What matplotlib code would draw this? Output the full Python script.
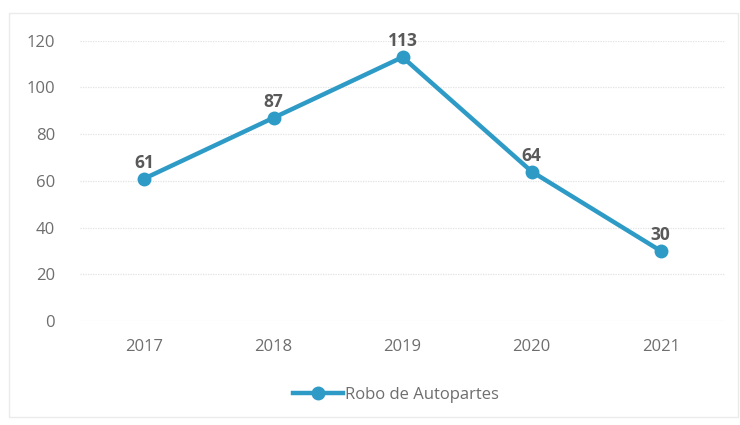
import matplotlib.pyplot as plt
from matplotlib.lines import Line2D

# Data
years = ["2017", "2018", "2019", "2020", "2021"]
robos = [61, 87, 113, 64, 30]
y_ticks = [0, 20, 40, 60, 80, 100, 120]
series_name = "Robo de Autopartes"

line_color = "#2E9BC6"
text_color = "#6E6E6E"

plt.rcParams['font.family'] = ['Open Sans', 'DejaVu Sans']

fig = plt.figure(figsize=(7.4, 4.25), dpi=100)
ax = fig.add_axes([0.108, 0.245, 0.872, 0.659])

x = range(len(years))
ax.plot(x, robos, color=line_color, linewidth=3.2, marker='o',
        markersize=9, clip_on=False, zorder=3)

for xi, v in zip(x, robos):
    ax.annotate(str(v), (xi, v), xytext=(0, 5), textcoords='offset points',
                ha='center', va='bottom', fontsize=12.5, fontweight='bold',
                color="#595959")

ax.set_xlim(-0.5, len(years) - 0.5)
ax.set_ylim(0, 120)
ax.set_yticks(y_ticks)
ax.set_xticks(list(x))
ax.set_xticklabels(years)
ax.tick_params(axis='both', length=0, labelsize=12, colors=text_color)
ax.tick_params(axis='x', pad=13)
ax.tick_params(axis='y', pad=18)
ax.grid(axis='y', color="#E3E3E3", linewidth=0.9, linestyle=(0, (1, 1)))
ax.set_axisbelow(True)
for s in ax.spines.values():
    s.set_visible(False)

handle = Line2D([0], [0], color=line_color, linewidth=3.2, marker='o',
                markersize=9)
fig.legend([handle], [series_name], loc='center', bbox_to_anchor=(0.535, 0.07),
           frameon=False, fontsize=12, labelcolor=text_color,
           handlelength=3.0, handletextpad=0.1)

# faint chart-area border
fig.patches.append(plt.Rectangle((0.012, 0.02), 0.985, 0.95,
                                 transform=fig.transFigure, fill=False,
                                 edgecolor="#EBEBEB", linewidth=1))

fig.savefig("out.png", dpi=100)
